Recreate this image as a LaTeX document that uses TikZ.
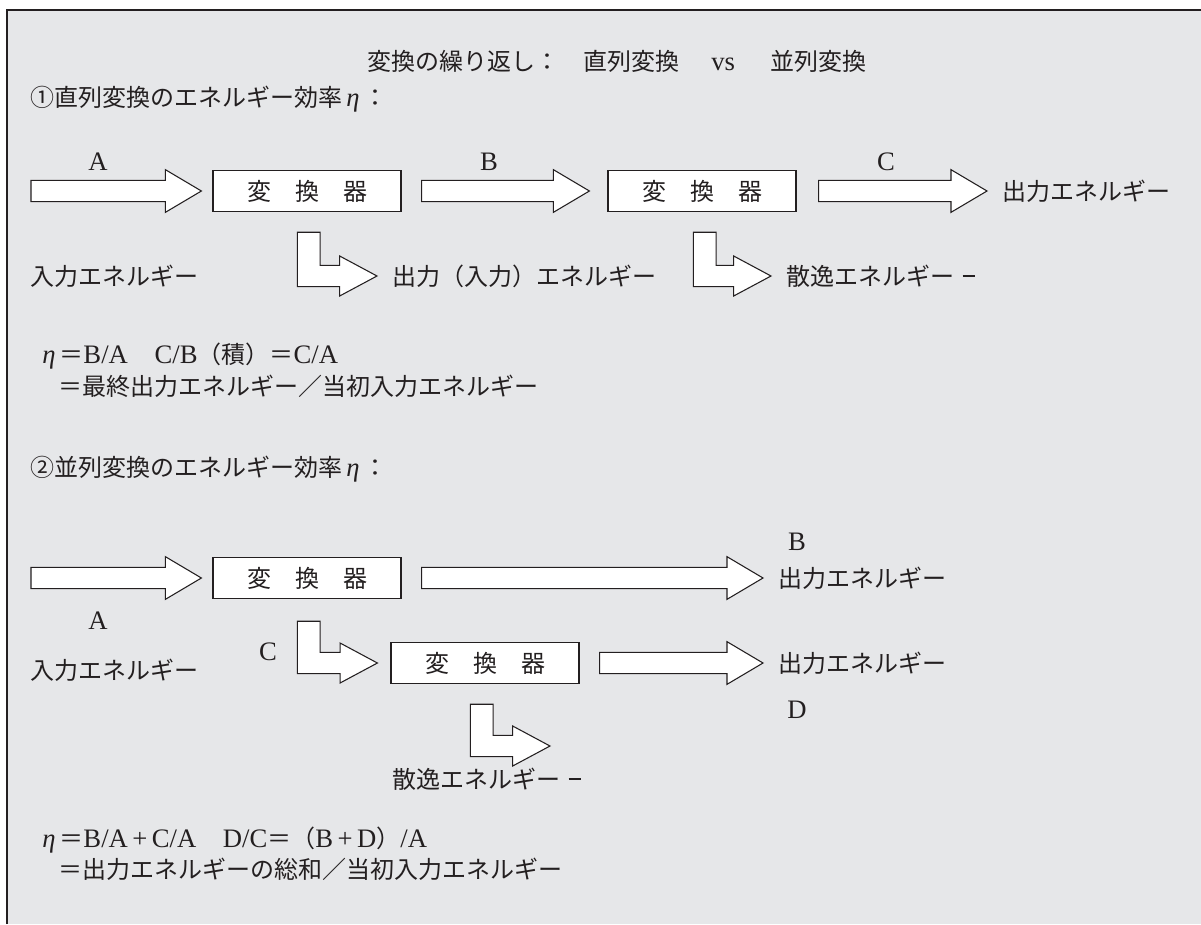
\documentclass[tikz,border=0pt]{standalone}
\usepackage{fontspec}
\setmainfont{Liberation Serif}
\newfontfamily\jp{Noto Sans CJK JP}
\usetikzlibrary{calc}
\definecolor{bg}{RGB}{230,231,233}
\definecolor{ink}{RGB}{35,31,32}
\newcommand\et{{\rmfamily\fontsize{20}{22}\selectfont\itshape η}}
\newcommand\rl[1]{{\rmfamily\fontsize{20}{22}\selectfont #1}}
\newcommand\dsh{\hspace{0.35em}\rule[0.36em]{0.5em}{0.06em}}
% straight block arrow from #1 (tail) to #2 (tip)
\newcommand\fatarr[2]{\draw[fat] let \p1=(#1), \p2=(#2) in
  (\x1,\y1-8pt) -- (\x2-27pt,\y1-8pt) -- (\x2-27pt,\y1-16pt) -- (\x2,\y1)
  -- (\x2-27pt,\y1+16pt) -- (\x2-27pt,\y1+8pt) -- (\x1,\y1+8pt) -- cycle;}
% L-shaped block arrow: #1 = top-left of the bar, #2 = tip
\newcommand\larr[2]{\draw[fat] let \p1=(#1), \p2=(#2) in
  (\x1,\y1) -- (\x1+17pt,\y1) -- (\x1+17pt,\y2+8pt) -- (\x2-28pt,\y2+8pt)
  -- (\x2-28pt,\y2+15pt) -- (\x2,\y2) -- (\x2-28pt,\y2-15pt) -- (\x2-28pt,\y2-8pt)
  -- (\x1,\y2-8pt) -- cycle;}
\begin{document}
\begin{tikzpicture}[x=0.75pt,y=-0.75pt,
  conv/.style={draw=ink, fill=white, line width=0.9pt, minimum width=141pt,
    minimum height=31pt, inner sep=0pt, font=\jp\fontsize{18}{22}\selectfont, text=ink},
  jtxt/.style={font=\jp\fontsize{18}{22}\selectfont, text=ink, inner sep=0pt, anchor=west},
  lbl/.style={font=\rmfamily\fontsize{20}{22}\selectfont, text=ink, inner sep=0pt},
  fat/.style={draw=ink, fill=white, line width=0.8pt, line join=miter}]
\useasboundingbox (0,0) rectangle (1201,924);
\fill[bg] (7,10) rectangle (1201,924);
\draw[ink, line width=1.3pt] (7,924) -- (7,10) -- (1201,10);

% title and heading 1
\node[jtxt] (title) at (367,61) {変換の繰り返し：　直列変換\hspace{24pt}\rl{vs}\hspace{27pt}並列変換};
\node[jtxt] (h1) at (30,99) {①直列変換のエネルギー効率\,\et\,：};

% row 1
\node[conv] (k1) at (307,191) {変　換　器};
\node[conv] (k2) at (702,191) {変　換　器};
\node[jtxt] (o1) at (1002,191) {出力エネルギー};
\coordinate (s1) at (31,191);
\fatarr{s1}{$(k1.west)+(-11,0)$}
\fatarr{$(k1.east)+(20,0)$}{$(k2.west)+(-18,0)$}
\fatarr{$(k2.east)+(22,0)$}{$(o1.west)+(-15,0)$}
\node[lbl] (la) at (98,162) {A};
\node[lbl] (lb) at (489,162) {B};
\node[lbl] (lc) at (886,162) {C};

\node[jtxt] (in1) at (30,276) {入力エネルギー};
\node[jtxt] (oi1) at (392,276) {出力（入力）エネルギー};
\node[jtxt] (d1) at (786,276) {散逸エネルギー\dsh};
\larr{$(k1.south west)+(85,20)$}{$(oi1.west)+(-15,0)$}
\larr{$(k2.south west)+(86,20)$}{$(d1.west)+(-15,0)$}

% formula 1
\node[jtxt] (f1) at (42,356) {\et\,＝\rl{B/A}\hspace{20pt}\rl{C/B}（積）＝\rl{C/A}};
\node[jtxt] (f2) at (58,386) {＝最終出力エネルギー／当初入力エネルギー};

% heading 2
\node[jtxt] (h2) at (30,469) {②並列変換のエネルギー効率\,\et\,：};

% row 2
\node[conv] (k3) at (307,578) {変　換　器};
\node[jtxt] (o2) at (778,578) {出力エネルギー};
\coordinate (s2) at (31,578);
\fatarr{s2}{$(k3.west)+(-11,0)$}
\fatarr{$(k3.east)+(20,0)$}{$(o2.west)+(-15,0)$}
\node[lbl] (lb2) at (797,542) {B};
\node[lbl] (la2) at (98,621) {A};
\node[lbl] (lc2) at (268,652) {C};
\node[jtxt] (in2) at (30,670) {入力エネルギー};

\node[conv] (k4) at (485,663) {変　換　器};
\node[jtxt] (o3) at (778,663) {出力エネルギー};
\larr{$(k3.south west)+(85,22)$}{$(k4.west)+(-13,0)$}
\fatarr{$(k4.east)+(20,0)$}{$(o3.west)+(-15,0)$}
\node[lbl] (ld) at (797,710) {D};

\coordinate (t4) at (550,746);
\larr{$(k4.south west)+(80,20)$}{t4}
\node[jtxt] (d2) at (392,779) {散逸エネルギー\dsh};

% formula 2
\node[jtxt] (g1) at (42,840) {\et\,＝\rl{B/A\,+\,C/A}\hspace{20pt}\rl{D/C}＝（\rl{B\,+\,D}）\rl{/A}};
\node[jtxt] (g2) at (58,869) {＝出力エネルギーの総和／当初入力エネルギー};
\end{tikzpicture}
\end{document}
